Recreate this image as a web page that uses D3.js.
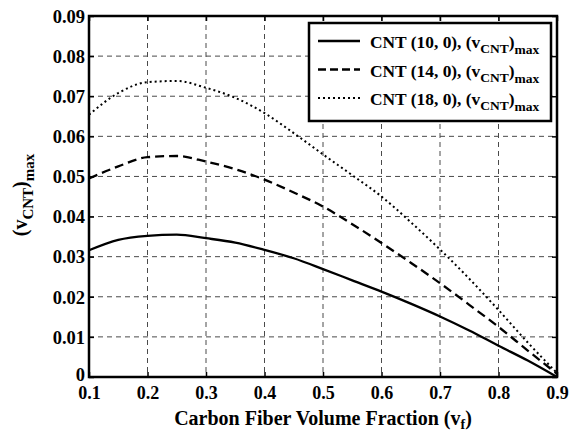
<!DOCTYPE html>
<html><head><meta charset="utf-8">
<script src="https://cdn.jsdelivr.net/npm/d3@7/dist/d3.min.js"></script>
<style>body{margin:0;background:#fff}svg{display:block}text{font-family:"Liberation Serif","Times New Roman",serif;font-weight:bold}</style>
</head><body><script>
const vf = [0.1,0.15,0.2,0.25,0.3,0.35,0.4,0.45,0.5,0.55,0.6,0.65,0.7,0.75,0.8,0.85,0.9];
const cnt10 = [0.0316,0.0342,0.0352,0.0355,0.0346,0.0335,0.0317,0.0296,0.0269,0.0241,0.0213,0.0183,0.0151,0.0116,0.0078,0.0041,0.0];
const cnt14 = [0.0495,0.0525,0.0548,0.0551,0.0537,0.0518,0.0492,0.0460,0.0425,0.0381,0.0334,0.0285,0.0234,0.0180,0.0125,0.0066,0.0008];
const cnt18 = [0.0654,0.0708,0.0735,0.0738,0.0721,0.0696,0.0658,0.0608,0.0555,0.0503,0.0450,0.0386,0.0318,0.0245,0.0167,0.0086,0.001];
const xTicks = [0.1,0.2,0.3,0.4,0.5,0.6,0.7,0.8,0.9];
const yTicks = [0,0.01,0.02,0.03,0.04,0.05,0.06,0.07,0.08,0.09];
const seriesNames = ["CNT (10, 0), (v","CNT (14, 0), (v","CNT (18, 0), (v"];
const series = [cnt10,cnt14,cnt18];
const dashes = [null,"9,5","2,3"];

const W=579,H=434;
const m={l:89,r:557,t:16,b:377};
const svg=d3.select("body").append("svg").attr("width",W).attr("height",H);
svg.append("rect").attr("width",W).attr("height",H).attr("fill","#fff");
const x=d3.scaleLinear().domain([0.1,0.9]).range([m.l,m.r]);
const y=d3.scaleLinear().domain([0,0.09]).range([m.b,m.t]);

// grid
const g=svg.append("g");
g.selectAll(".gx").data(xTicks.slice(1,-1)).join("line")
 .attr("x1",d=>x(d)).attr("x2",d=>x(d)).attr("y1",m.t).attr("y2",m.b)
 .attr("stroke","#4a4a4a").attr("stroke-width",1).attr("stroke-dasharray","5,4");
g.selectAll(".gy").data(yTicks.slice(1,-1)).join("line")
 .attr("y1",d=>y(d)).attr("y2",d=>y(d)).attr("x1",m.l).attr("x2",m.r)
 .attr("stroke","#4a4a4a").attr("stroke-width",1).attr("stroke-dasharray","5,4");

// axes
const fmt=d=>d===0?"0":d3.format(".2f")(d);
const ax=svg.append("g").attr("transform",`translate(0,${m.b})`)
 .call(d3.axisBottom(x).tickValues(xTicks).tickSize(-5).tickPadding(9).tickFormat(d3.format(".1f")));
const ay=svg.append("g").attr("transform",`translate(${m.l},0)`)
 .call(d3.axisLeft(y).tickValues(yTicks).tickSize(-5).tickPadding(4).tickFormat(fmt));
const axT=svg.append("g").attr("transform",`translate(0,${m.t})`)
 .call(d3.axisTop(x).tickValues(xTicks).tickSize(-5).tickFormat(""));
const ayR=svg.append("g").attr("transform",`translate(${m.r},0)`)
 .call(d3.axisRight(y).tickValues(yTicks).tickSize(-5).tickFormat(""));
[ax,ay,axT,ayR].forEach(a=>{a.select(".domain").remove();a.selectAll("line").attr("stroke","#000").attr("stroke-width",1.5);});
ax.selectAll("text").attr("font-size",18).attr("fill","#000").attr("dy","0.7em");
ay.selectAll("text").attr("font-size",18.5).attr("fill","#000").attr("dy","0.34em");
ay.selectAll(".tick").filter(d=>d===0).select("text").attr("dy","0.2em");

// frame
svg.append("rect").attr("x",m.l).attr("y",m.t).attr("width",m.r-m.l).attr("height",m.b-m.t)
 .attr("fill","none").attr("stroke","#000").attr("stroke-width",2.5);

// lines
const line=d3.line().x((d,i)=>x(vf[i])).y(d=>y(d)).curve(d3.curveMonotoneX);
series.forEach((s,i)=>{
 svg.append("path").datum(s).attr("d",line).attr("fill","none").attr("stroke","#000")
  .attr("stroke-width",i===2?2:2.3).attr("stroke-dasharray",dashes[i]);
});

// legend
const lg=svg.append("g");
lg.append("rect").attr("x",309).attr("y",23).attr("width",242).attr("height",98)
 .attr("fill","#fff").attr("stroke","#000").attr("stroke-width",2.5);
seriesNames.forEach((n,i)=>{
 const base=48+i*28.5;
 lg.append("line").attr("x1",318).attr("x2",360).attr("y1",base-7).attr("y2",base-7)
  .attr("stroke","#000").attr("stroke-width",i===2?2:2.3).attr("stroke-dasharray",i===1?"8,4":dashes[i]);
 const t=lg.append("text").attr("x",370).attr("y",base).attr("font-size",17.4).attr("fill","#000");
 t.append("tspan").text(n);
 t.append("tspan").attr("font-size",13.5).attr("dy",5).text("CNT");
 t.append("tspan").attr("dy",-5).text(")");
 t.append("tspan").attr("font-size",13.5).attr("dy",6).text("max");
});

// axis titles
const xt=svg.append("text").attr("x",(m.l+m.r)/2).attr("y",425).attr("text-anchor","middle").attr("font-size",20).attr("fill","#000");
xt.append("tspan").text("Carbon Fiber Volume Fraction (v");
xt.append("tspan").attr("font-size",14).attr("dy",4).text("f");
xt.append("tspan").attr("dy",-4).text(")");

const yt=svg.append("text").attr("transform",`translate(27,195) rotate(-90)`).attr("text-anchor","middle").attr("font-size",20).attr("fill","#000");
yt.append("tspan").text("(v");
yt.append("tspan").attr("font-size",15).attr("dy",6).text("CNT");
yt.append("tspan").attr("dy",-6).text(")");
yt.append("tspan").attr("font-size",15).attr("dy",7).text("max");
</script></body></html>
